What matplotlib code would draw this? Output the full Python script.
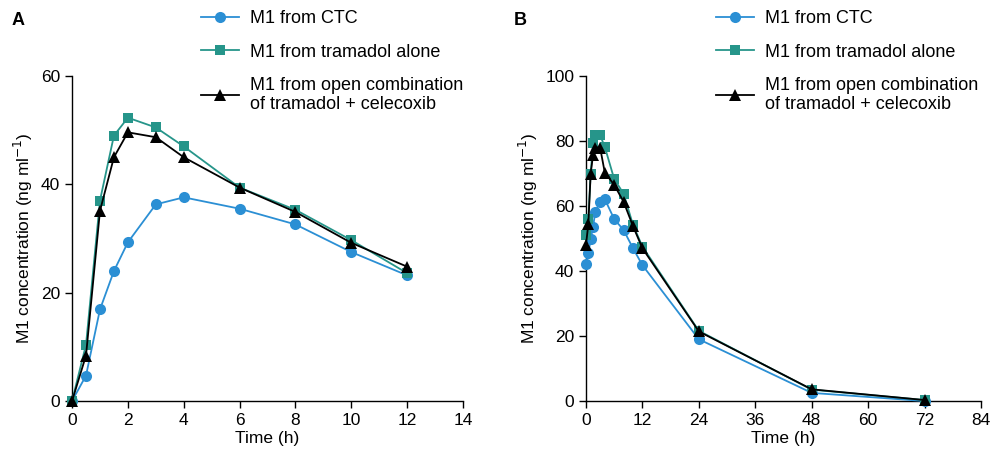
import matplotlib
matplotlib.use("Agg")
import matplotlib.pyplot as plt

plt.rcParams["font.family"] = ["Liberation Sans", "DejaVu Sans"]
plt.rcParams["font.size"] = 12

# Panel A: single dose, 0-12 h
time_a = [0, 0.5, 1, 1.5, 2, 3, 4, 6, 8, 10, 12]
ctc_a = [0, 4.7, 16.9, 24.0, 29.3, 36.3, 37.6, 35.5, 32.6, 27.5, 23.2]
tram_a = [0, 10.4, 37.0, 49.0, 52.3, 50.5, 47.0, 39.4, 35.3, 29.7, 23.6]
combo_a = [0, 8.4, 35.1, 45.0, 49.6, 48.7, 45.0, 39.4, 34.9, 29.2, 24.8]

# Panel B: 0-72 h
time_b = [0, 0.5, 1, 1.5, 2, 3, 4, 6, 8, 10, 12, 24, 48, 72]
ctc_b = [42.2, 45.4, 49.7, 53.6, 58.3, 61.3, 62.1, 56.0, 52.6, 47.0, 41.8, 19.0, 2.5, 0.0]
tram_b = [51.0, 56.0, 70.0, 79.3, 82.0, 81.8, 78.2, 68.3, 63.8, 54.2, 47.5, 21.6, 3.5, 0.3]
combo_b = [48.0, 54.5, 70.0, 75.7, 78.0, 78.0, 70.3, 66.5, 61.3, 53.8, 47.0, 21.4, 3.6, 0.3]

labels = ["M1 from CTC", "M1 from tramadol alone",
          "M1 from open combination\nof tramadol + celecoxib"]
c_blue = "#2b8fd4"
c_teal = "#26958a"
c_black = "#000000"

fig = plt.figure(figsize=(9.91, 4.57), dpi=100)
ax_a = fig.add_axes([0.0727, 0.1225, 0.3945, 0.7112])
ax_b = fig.add_axes([0.5913, 0.1225, 0.3986, 0.7112])


def draw(ax, t, ctc, tram, combo):
    kw = dict(lw=1.3, clip_on=False, markeredgewidth=0)
    h1, = ax.plot(t, ctc, color=c_blue, marker="o", ms=8, zorder=3, **kw)
    h2, = ax.plot(t, tram, color=c_teal, marker="s", ms=7, zorder=3, **kw)
    h3, = ax.plot(t, combo, color=c_black, marker="^", ms=8, zorder=4, **kw)
    for s in ["top", "right"]:
        ax.spines[s].set_visible(False)
    for s in ["left", "bottom"]:
        ax.spines[s].set_linewidth(1.0)
    ax.tick_params(direction="out", length=5, width=1.0, labelsize=12.5)
    ax.set_xlabel("Time (h)", fontsize=12.5, labelpad=2)
    ax.set_ylabel("M1 concentration (ng ml$^{-1}$)", fontsize=12.5)
    return [h1, h2, h3]


hs = draw(ax_a, time_a, ctc_a, tram_a, combo_a)
ax_a.set_xlim(0, 14)
ax_a.set_ylim(0, 60)
ax_a.set_xticks(range(0, 15, 2))
ax_a.set_yticks([0, 20, 40, 60])

draw(ax_b, time_b, ctc_b, tram_b, combo_b)
ax_b.set_xlim(0, 84)
ax_b.set_ylim(0, 100)
ax_b.set_xticks(range(0, 85, 12))
ax_b.set_yticks(range(0, 101, 20))

for x0 in [0.19, 0.71]:
    fig.legend(hs, labels, loc="upper left", bbox_to_anchor=(x0, 1.005),
               frameon=False, fontsize=13, handlelength=2.1,
               labelspacing=0.9, handletextpad=0.6, borderaxespad=0.3)

fig.text(0.012, 0.955, "A", fontsize=13, fontweight="bold", va="center")
fig.text(0.518, 0.955, "B", fontsize=13, fontweight="bold", va="center")

fig.savefig("out.png", dpi=100)
